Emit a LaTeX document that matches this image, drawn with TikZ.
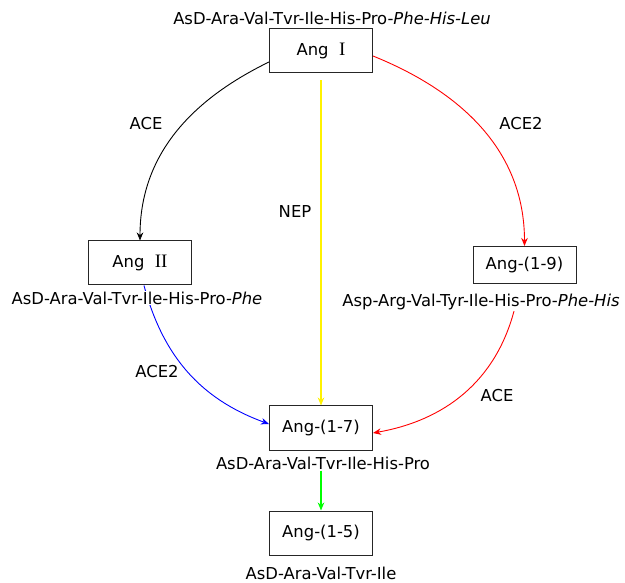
\documentclass[tikz,border=0pt]{standalone}
\usepackage{fontspec}
\setmainfont{DejaVu Sans}
\newfontfamily\romfont{Liberation Serif}
\usetikzlibrary{positioning,arrows.meta,backgrounds}

\newcommand{\rnum}[1]{{\romfont\fontsize{19}{19}\selectfont #1}}

\begin{document}
\begin{tikzpicture}[x=1pt,y=1pt,every node/.style={font=\fontsize{16.4}{19}\selectfont},
	box/.style={draw=black!85,line width=1pt,minimum width=103pt,minimum height=44pt,fill=white},
	seq/.style={fill=white,inner sep=1pt},
	conv/.style={line width=0.9pt,-{Stealth[length=8pt,width=6.5pt,inset=2.5pt]}}]

\useasboundingbox (0,0) rectangle (625,-583);

% peptides
\node[box] (angI) at (321,-51) {Ang~~\rnum{I}};
\node[box] (angII) at (140,-263) {Ang~~\rnum{II}};
\node[box,minimum height=37pt] (ang19) at (524.5,-265) {Ang-(1-9)};
\node[box] (ang17) at (321,-428) {Ang-(1-7)};
\node[box] (ang15) at (321,-533) {Ang-(1-5)};

% sequences
\node[seq] (seqI) at (332,-18) {AsD-Ara-Val-Tvr-Ile-His-Pro-\textit{Phe-His-Leu}};
\node[seq] (seqII) at (137,-298) {AsD-Ara-Val-Tvr-Ile-His-Pro-\textit{Phe}};
\node[seq] (seq19) at (481,-302) {Asp-Arg-Val-Tyr-Ile-His-Pro-\textit{Phe-His}};
\node[seq] (seq17) at (323,-463) {AsD-Ara-Val-Tvr-Ile-His-Pro};
\node[seq] (seq15) at (321,-573) {AsD-Ara-Val-Tvr-Ile};

% enzymes
\node (aceA) at (146,-124) {ACE};
\node (aceB) at (521,-124) {ACE2};
\node (nep) at (295,-212) {NEP};
\node (aceC) at (157,-372) {ACE2};
\node (aceD) at (497,-396) {ACE};

\begin{scope}[on background layer]
\draw[conv] ([yshift=-11pt]angI.west) to[out=206,in=90] (angII.north);
\draw[conv,red] ([yshift=-5pt]angI.east) to[out=-22,in=90] (ang19.north);
\draw[conv,yellow,line width=1.1pt] ([yshift=-7pt]angI.south) -- (ang17.north);
\draw[conv,blue] ([xshift=4pt]angII.south) to[out=-75,in=160] ([yshift=4pt]ang17.west);
\draw[conv,red] ([xshift=33pt]seq19.south) to[out=-105,in=10] ([yshift=-5pt]ang17.east);
\draw[conv,green,line width=1.1pt] (seq17.south -| ang15.north) -- (ang15.north);
\end{scope}

\end{tikzpicture}
\end{document}
